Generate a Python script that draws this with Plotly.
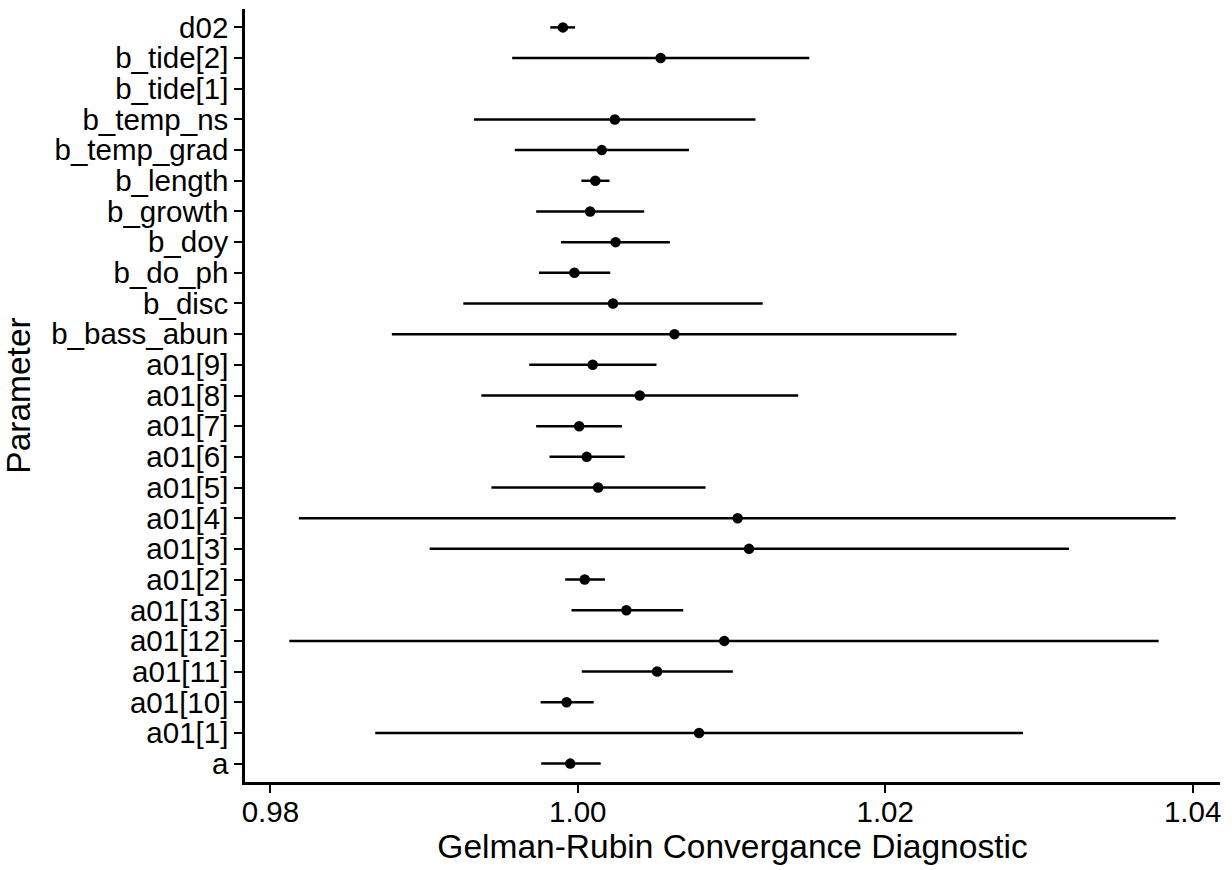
import plotly.graph_objects as go

# Parameters, bottom to top (alphabetical, as in the reference)
params = ["a", "a01[1]", "a01[10]", "a01[11]", "a01[12]", "a01[13]", "a01[2]",
          "a01[3]", "a01[4]", "a01[5]", "a01[6]", "a01[7]", "a01[8]", "a01[9]",
          "b_bass_abun", "b_disc", "b_do_ph", "b_doy", "b_growth", "b_length",
          "b_temp_grad", "b_temp_ns", "b_tide[1]", "b_tide[2]", "d02"]

point_est = [0.99951, 1.00789, 0.99927, 1.00516, 1.00953, 1.00316, 1.00045,
             1.01114, 1.01040, 1.00132, 1.00058, 1.00009, 1.00403, 1.00097,
             1.00629, 1.00229, 0.99978, 1.00246, 1.00080, 1.00114,
             1.00156, 1.00241, None, 1.00539, 0.99903]

lower = [0.99762, 0.98682, 0.99758, 1.00026, 0.98123, 0.99959, 0.99918,
         0.99036, 0.98185, 0.99438, 0.99816, 0.99729, 0.99372, 0.99684,
         0.98790, 0.99255, 0.99747, 0.99891, 0.99729, 1.00023,
         0.99590, 0.99324, None, 0.99573, 0.99821]

upper = [1.00149, 1.02896, 1.00103, 1.01009, 1.03779, 1.00686, 1.00177,
         1.03196, 1.03890, 1.00831, 1.00305, 1.00288, 1.01434, 1.00512,
         1.02464, 1.01203, 1.00211, 1.00599, 1.00432, 1.00206,
         1.00723, 1.01156, None, 1.01506, 0.99982]

x_ticks = [0.98, 1.00, 1.02, 1.04]

plus = [None if p is None else u - p for p, u in zip(point_est, upper)]
minus = [None if p is None else p - l for p, l in zip(point_est, lower)]

lo_all = min(v for v in lower if v is not None)
hi_all = max(v for v in upper if v is not None)
span = hi_all - lo_all
x_range = [lo_all - 0.05 * span, hi_all + 0.05 * span]

FONT = "Liberation Sans, Arial, sans-serif"

fig = go.Figure()
fig.add_trace(go.Scatter(
    x=point_est, y=params, mode="markers",
    marker=dict(color="black", size=10.5),
    error_x=dict(type="data", symmetric=False, array=plus, arrayminus=minus,
                 width=0, thickness=2.5, color="black"),
    showlegend=False,
))

fig.update_layout(
    width=1232, height=870,
    margin=dict(l=245, r=12, t=9, b=88),
    paper_bgcolor="white", plot_bgcolor="white",
    font=dict(family=FONT, color="black"),
)
fig.update_xaxes(
    range=x_range, tickmode="array", tickvals=x_ticks,
    ticktext=[f"{v:.2f}" for v in x_ticks],
    automargin=False,
    showgrid=False, zeroline=False,
    showline=True, linecolor="black", linewidth=2.5,
    ticks="outside", ticklen=8, tickwidth=2, tickcolor="black",
    ticklabelstandoff=-6,
    tickfont=dict(size=29.5, family=FONT, color="black"),
    title=dict(text="Gelman-Rubin Convergance Diagnostic",
               font=dict(size=33.5, family=FONT, color="black"), standoff=6),
)
fig.update_yaxes(
    type="category", categoryorder="array", categoryarray=params,
    tickmode="array", tickvals=params, ticktext=params,
    range=[-0.6, len(params) - 0.4],
    automargin=False,
    showgrid=False, zeroline=False,
    showline=True, linecolor="black", linewidth=2.5,
    ticks="outside", ticklen=8, tickwidth=2, tickcolor="black",
    tickfont=dict(size=29.5, family=FONT, color="black"),
    title=dict(text="Parameter",
               font=dict(size=33.5, family=FONT, color="black"), standoff=12),
)

fig.write_html("out.html")
